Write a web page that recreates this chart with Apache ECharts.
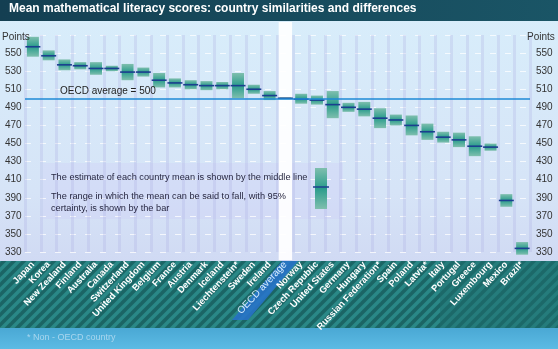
<!DOCTYPE html>
<html><head><meta charset="utf-8">
<script src="https://cdn.jsdelivr.net/npm/echarts@6/dist/echarts.min.js"></script>
<style>html,body{margin:0;padding:0;background:#dbe7f6}#c{width:558px;height:349px}</style>
</head><body><div id="c"></div>
<script>
const categories = ['Japan','Korea','New Zealand','Finland','Australia','Canada','Switzerland','United Kingdom','Belgium','France','Austria','Denmark','Iceland','Liechtenstein*','Sweden','Ireland','OECD average','Norway','Czech Republic','United States','Germany','Hungary','Russian Federation*','Spain','Poland','Latvia*','Italy','Portugal','Greece','Luxembourg','Mexico','Brazil*'];
const means = [557,547,537,536,533,533,529,529,520,517,515,514,514,514,510,503,500,499,498,493,490,488,478,476,470,463,457,454,447,446,387,334];
const lows  = [546,542,531,532,526,530,520,524,512,512,510,509,510,500,505,498,499,494,493,478,485,480,467,470,459,454,451,446,436,442,380,327];
const highs = [568,553,543,540,540,536,538,534,528,522,520,519,518,528,515,508,501,505,503,508,495,496,489,482,481,472,463,462,458,450,394,341];
const oecdAverage = 500;
const highlightCategory = 'OECD average';
const yMin = 330, yMax = 570, yStep = 20;

const chart = echarts.init(document.getElementById('c'));

// diagonal stripe pattern for bottom band
const pat = document.createElement('canvas');
pat.width = 10; pat.height = 10;
const g = pat.getContext('2d');
g.fillStyle = '#1b6565'; g.fillRect(0,0,10,10);
g.strokeStyle = '#2a8887'; g.lineWidth = 3.5;
[[-10,10,10,-10],[0,10,10,0],[0,20,20,0]].forEach(l=>{g.beginPath();g.moveTo(l[0],l[1]);g.lineTo(l[2],l[3]);g.stroke();});

const boxFill = new echarts.graphic.LinearGradient(0,0,0,1,[
  {offset:0,color:'#7fbfae'},{offset:0.5,color:'#2a9c8c'},{offset:1,color:'#7fbfae'}]);

const data = categories.map((c,i)=>[i, lows[i], highs[i], means[i]]);
const hlIndex = categories.indexOf(highlightCategory);

chart.setOption({
  animation:false,
  textStyle:{fontFamily:'Liberation Sans, Arial, sans-serif'},
  grid:{left:25, right:28, top:35, bottom:97},
  graphic:[
    {type:'rect', z:-10, shape:{x:0,y:0,width:558,height:349},
     style:{fill:new echarts.graphic.LinearGradient(0,0,0,1,[{offset:0,color:'#d8eefb'},{offset:0.55,color:'#d6e4f7'},{offset:1,color:'#c9cdef'}])}},
    {type:'rect', z:-9, shape:{x:0,y:0,width:558,height:21},
     style:{fill:new echarts.graphic.LinearGradient(0,0,1,0,[{offset:0,color:'#143f52'},{offset:1,color:'#1a5566'}])}},
    {type:'text', z:5, left:9, top:3, style:{text:'Mean mathematical literacy scores: country similarities and differences', fill:'#ffffff', font:'bold 12px Liberation Sans, Arial, sans-serif'}},
    {type:'text', z:5, left:2, top:32, style:{text:'Points', fill:'#333', font:'10px Liberation Sans, Arial, sans-serif'}},
    {type:'text', z:5, left:527, top:32, style:{text:'Points', fill:'#333', font:'10px Liberation Sans, Arial, sans-serif'}},
    {type:'rect', z:-8, shape:{x:0,y:261,width:558,height:67}, style:{fill:{image:pat, repeat:'repeat'}}},
    {type:'rect', z:-7, shape:{x:440,y:261,width:118,height:67}, style:{fill:'rgba(30,110,110,0.45)'}},
    {type:'polygon', z:-6, shape:{points:[[282,261],[298,261],[248,320],[232,320]]}, style:{fill:'rgba(40,115,205,0.85)'}},
    {type:'rect', z:-8, shape:{x:0,y:328,width:558,height:21},
     style:{fill:new echarts.graphic.LinearGradient(0,0,0,1,[{offset:0,color:'#4aa8d4'},{offset:1,color:'#5cbbe4'}])}},
    {type:'text', z:5, left:27, top:333, style:{text:'* Non - OECD country', fill:'#a8d6ee', font:'9px Liberation Sans, Arial, sans-serif'}},
    {type:'rect', z:-5, shape:{x:43,y:163,width:300,height:56}, style:{fill:'rgba(205,205,245,0.35)'}},
    {type:'text', z:5, left:51, top:173, style:{text:'The estimate of each country mean is shown by the middle line', fill:'#262640', font:'9.2px Liberation Sans, Arial, sans-serif'}},
    {type:'text', z:5, left:51, top:190, style:{text:'The range in which the mean can be said to fall, with 95%\ncertainty, is shown by the bar', fill:'#262640', lineHeight:12, font:'9.2px Liberation Sans, Arial, sans-serif'}},
    {type:'rect', z:5, shape:{x:315,y:168,width:12,height:41}, style:{fill:boxFill}},
    {type:'line', z:6, shape:{x1:313,y1:187,x2:329,y2:187}, style:{stroke:'#1b3f8f', lineWidth:1.5}}
  ],
  xAxis:{type:'category', data:categories,
    axisLine:{show:false}, axisTick:{show:false},
    splitLine:{show:true, interval:0, lineStyle:{color:'rgba(175,180,230,0.3)', width:3}},
    axisLabel:{interval:0, rotate:47, margin:11,
      formatter:v=> v===highlightCategory ? '{o|'+v+'}' : '{b|'+v+'}',
      rich:{b:{color:'#ffffff', fontWeight:'bold', fontSize:9.3, fontFamily:'Liberation Sans Narrow, Liberation Sans, sans-serif'},
            o:{color:'#d6ecff', fontSize:10, fontFamily:'Liberation Sans, sans-serif'}}}
  },
  yAxis:[
    {type:'value', min:yMin, max:yMax, interval:yStep, position:'left',
     axisLine:{show:false}, axisTick:{show:false},
     axisLabel:{formatter:v=>v===yMax?'':v, align:'left', margin:20, color:'#333', fontSize:10, padding:[0,0,5,0]},
     splitLine:{lineStyle:{color:'rgba(255,255,255,0.75)', type:[6,9]}}},
    {type:'value', min:yMin, max:yMax, interval:yStep, position:'right',
     axisLine:{show:false}, axisTick:{show:false},
     axisLabel:{formatter:v=>v===yMax?'':v, align:'left', margin:6, color:'#333', fontSize:10, padding:[0,0,5,0]},
     splitLine:{show:false}}
  ],
  series:[
    {type:'custom', z:1, silent:true, data:[[hlIndex]],
     renderItem:function(params, api){
       const cs = params.coordSys; const p = api.coord([api.value(0), yMin]); const w = api.size([1,0])[0]*0.85;
       return {type:'rect', shape:{x:p[0]-w/2, y:cs.y-13, width:w, height:cs.height+21}, style:{fill:'rgba(255,255,255,0.92)'}};
     }},
    {type:'custom', z:3, data:data, encode:{x:0, y:[1,2,3]},
     renderItem:function(params, api){
       const x = api.value(0);
       const pLo = api.coord([x, api.value(1)]), pHi = api.coord([x, api.value(2)]), pM = api.coord([x, api.value(3)]);
       const w = api.size([1,0])[0]*0.76;
       return {type:'group', children:[
         {type:'rect', shape:{x:pLo[0]-w/2, y:pHi[1], width:w, height:pLo[1]-pHi[1]}, style:{fill:boxFill}},
         {type:'line', shape:{x1:pM[0]-w/2-1.5, y1:pM[1], x2:pM[0]+w/2+1.5, y2:pM[1]}, style:{stroke:'#1b3f8f', lineWidth:1.6}}
       ]};
     },
     markLine:{silent:true, symbol:'none', data:[{yAxis:oecdAverage}],
       lineStyle:{color:'#1e8ad6', width:1.5, type:'solid'},
       label:{show:true, position:'insideStartTop', distance:[35,2], formatter:'OECD average = '+oecdAverage, color:'#222', fontSize:10}}
    }
  ]
});
</script></body></html>
